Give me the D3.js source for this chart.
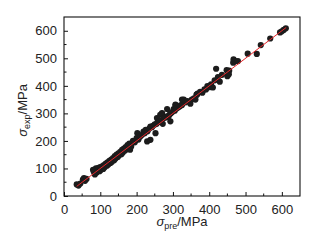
<!DOCTYPE html>
<html><head><meta charset="utf-8">
<script src="https://cdn.jsdelivr.net/npm/d3@7"></script>
<style>html,body{margin:0;padding:0;background:#fff;}svg{display:block;}</style>
</head><body>
<script>
const xPred = [35,40,45,52,55,58,62,80,82,85,88,90,92,95,98,100,102,105,108,110,112,115,118,120,122,125,128,130,132,135,138,140,142,145,148,150,152,155,158,160,162,165,168,170,172,175,178,180,182,185,190,195,200,202,205,210,215,219,222,225,229,230,235,238,238,242,245,250,252,255,256,258,262,265,268,270,270,272,275,280,284,285,288,292,293,295,298,302,305,307,307,310,315,319,322,325,325,330,335,340,348,352,358,362,365,366,368,375,381,387,391,395,400,405,410,415,419,424,429,435,448,450,454,455,466,467,472,479,506,531,542,568,595,600,605,611];
const yExp  = [42,38,45,60,65,55,62,95,88,78,100,85,95,102,90,105,95,108,98,112,104,118,110,122,114,128,120,132,124,138,130,145,136,150,142,155,148,160,152,168,158,172,165,178,170,185,175,190,168,180,200,195,210,228,205,216,222,234,228,240,198,235,245,204,252,250,255,260,228,262,283,268,270,295,275,301,298,262,283,285,316,290,289,298,271,301,305,316,310,328,332,318,322,326,330,330,350,350,340,345,335,350,355,350,368,368,372,378,375,387,387,399,395,405,394,420,462,432,415,440,457,435,442,455,484,496,490,490,517,516,548,572,594,598,603,609];
const fitLine = [[35,35],[612,612]];
const xTicks = [0,100,200,300,400,500,600];
const yTicks = [0,100,200,300,400,500,600];

const W=325,H=243;
const m={l:64,r:25,t:17,b:47};
const svg=d3.select("body").append("svg").attr("width",W).attr("height",H);
const x=d3.scaleLinear().domain([0,650]).range([m.l,W-m.r]);
const y=d3.scaleLinear().domain([0,650]).range([H-m.b,m.t]);
const font="Liberation Sans, Arial, sans-serif";

// frame
svg.append("rect").attr("x",m.l).attr("y",m.t).attr("width",W-m.r-m.l).attr("height",H-m.b-m.t)
  .attr("fill","none").attr("stroke","#111").attr("stroke-width",1.1);

const minor=d3.range(50,650,100);
const xa=svg.append("g").attr("transform",`translate(0,${H-m.b})`)
  .call(d3.axisBottom(x).tickValues(xTicks).tickSize(-4).tickPadding(9).tickFormat(d3.format("d")));
xa.select(".domain").remove();
const ya=svg.append("g").attr("transform",`translate(${m.l},0)`)
  .call(d3.axisLeft(y).tickValues(yTicks).tickSize(-4).tickPadding(7).tickFormat(d3.format("d")));
ya.select(".domain").remove();
[xa,ya].forEach(g=>{g.selectAll("text").attr("font-family",font).attr("font-size",13).attr("fill","#222");
  g.selectAll("line").attr("stroke","#111");});
svg.append("g").selectAll("line").data(minor).join("line")
  .attr("x1",d=>x(d)).attr("x2",d=>x(d)).attr("y1",H-m.b).attr("y2",H-m.b-2.5).attr("stroke","#111");
svg.append("g").selectAll("line").data(minor).join("line")
  .attr("y1",d=>y(d)).attr("y2",d=>y(d)).attr("x1",m.l).attr("x2",m.l+2.5).attr("stroke","#111");

// points
svg.append("g").selectAll("circle").data(xPred.map((v,i)=>[v,yExp[i]])).join("circle")
  .attr("cx",d=>x(d[0])).attr("cy",d=>y(d[1])).attr("r",3.1).attr("fill","#1c1c1c");

// fit line
svg.append("line").attr("x1",x(fitLine[0][0])).attr("y1",y(fitLine[0][1]))
  .attr("x2",x(fitLine[1][0])).attr("y2",y(fitLine[1][1])).attr("stroke","#e8262a").attr("stroke-width",1);

// x label
const xl=svg.append("text").attr("x",(m.l+W-m.r)/2).attr("y",226).attr("text-anchor","middle")
  .attr("font-family",font).attr("font-size",13).attr("fill","#222");
xl.append("tspan").attr("font-style","italic").text("σ");
xl.append("tspan").attr("font-size",9).attr("dy",3).text("pre");
xl.append("tspan").attr("dy",-3).text("/MPa");

const yl=svg.append("text").attr("transform",`translate(27,${(m.t+H-m.b)/2+4}) rotate(-90)`).attr("text-anchor","middle")
  .attr("font-family",font).attr("font-size",13).attr("fill","#222");
yl.append("tspan").attr("font-style","italic").text("σ");
yl.append("tspan").attr("font-size",9).attr("dy",3).text("exp");
yl.append("tspan").attr("dy",-3).text("/MPa");
</script>
</body></html>
